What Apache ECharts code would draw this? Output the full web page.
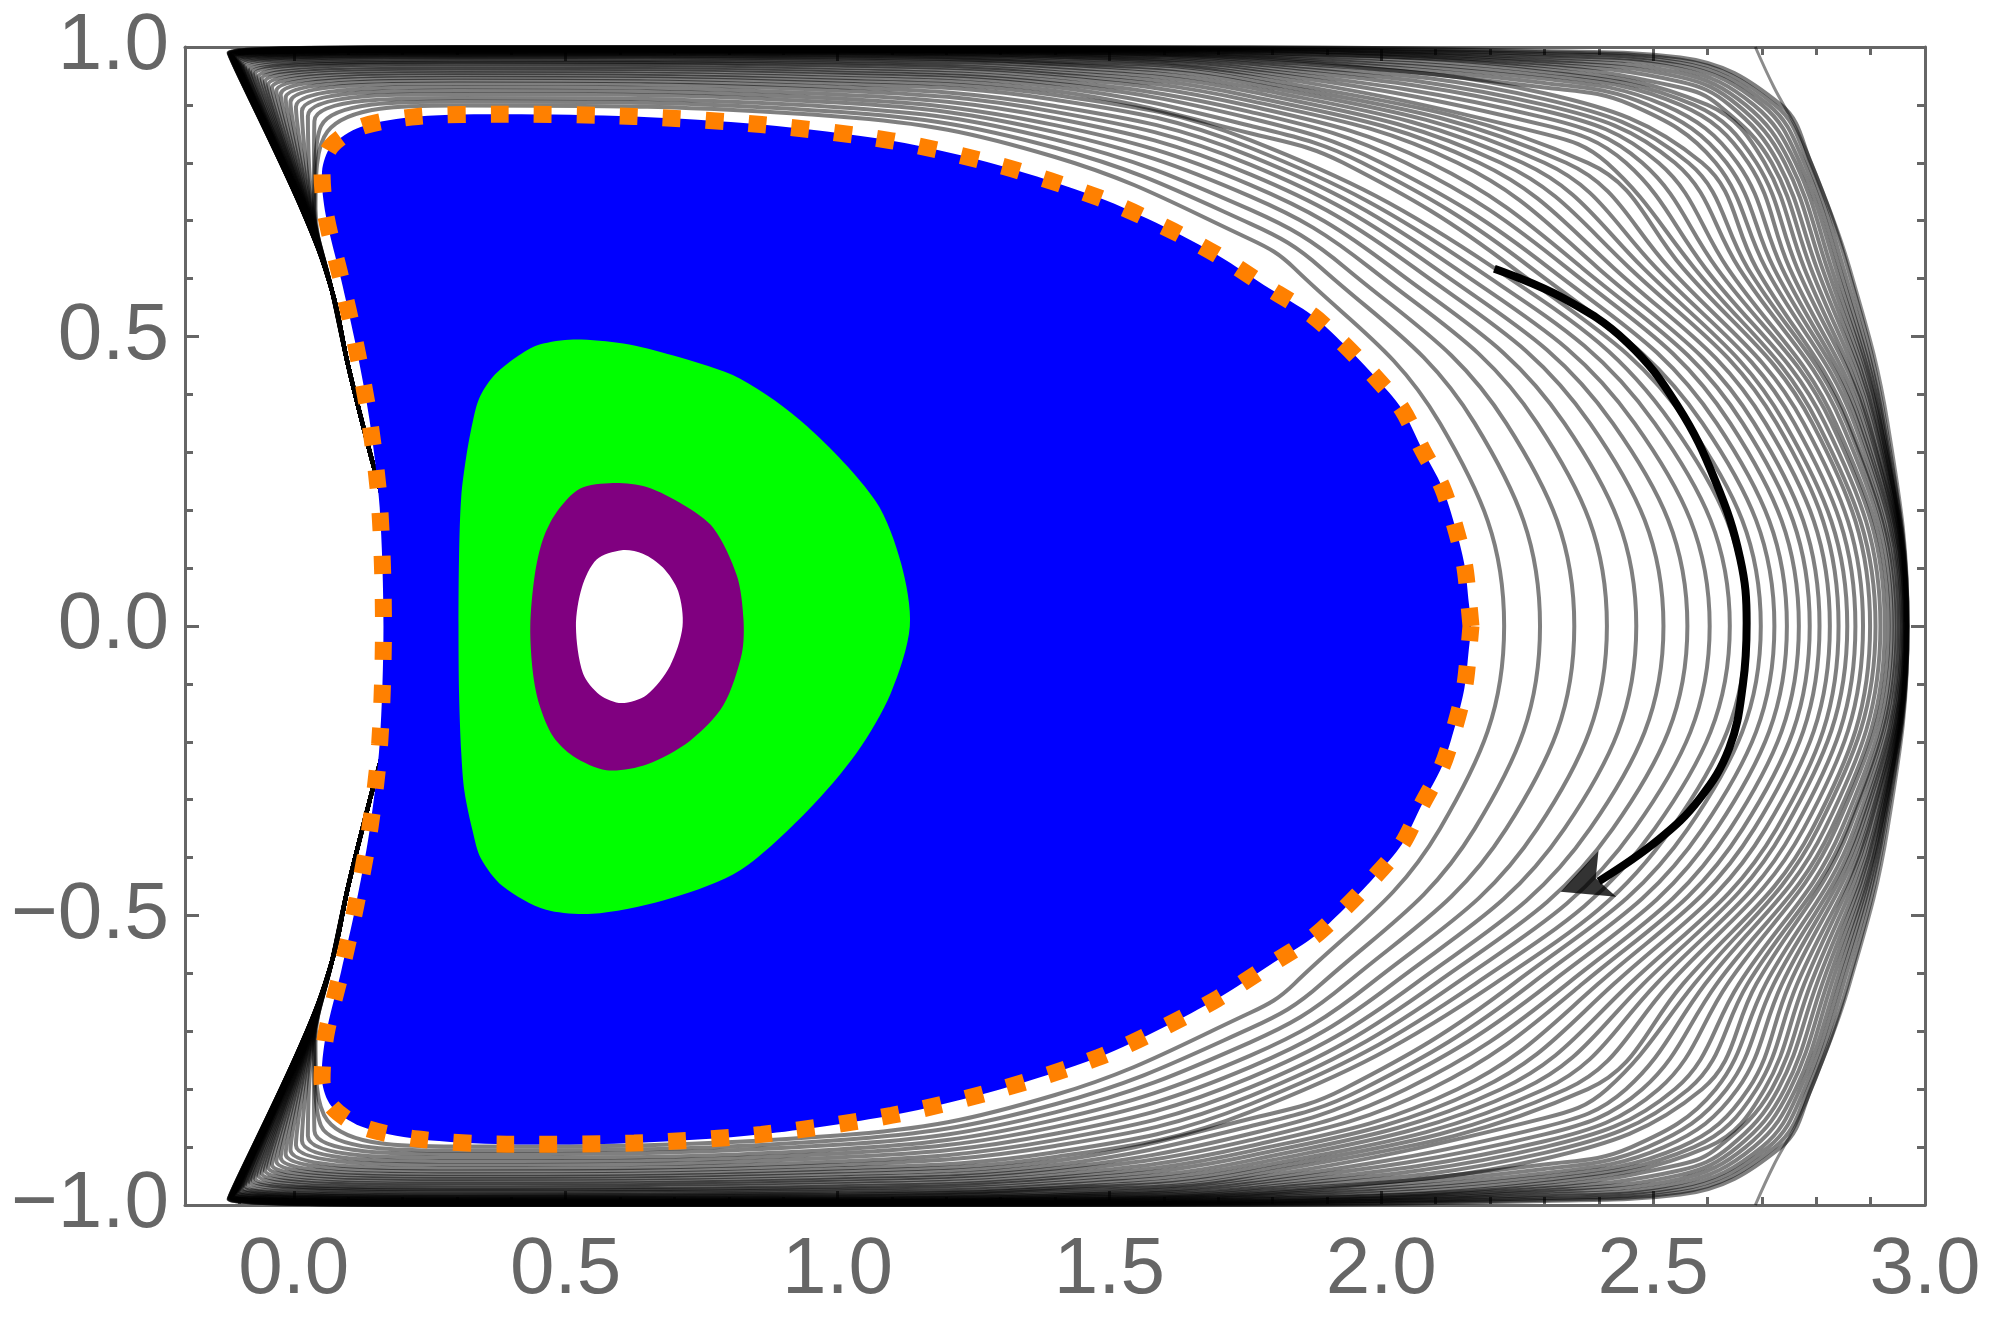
<!DOCTYPE html>
<html>
<head>
<meta charset="utf-8">
<script src="https://cdn.jsdelivr.net/npm/echarts@6.0.0/dist/echarts.min.js"></script>
<style>
  html, body { margin: 0; padding: 0; background: #fff; }
  #chart { width: 1989px; height: 1324px; }
</style>
</head>
<body>
<div id="chart"></div>
<script>
// tick positions
const xMajorTicks = [0, 0.5, 1.0, 1.5, 2.0, 2.5, 3.0];

// contour lines, innermost first; upper half at fixed cuts
// y = 0 (right tip)
const tipX = [2.226, 2.292, 2.355, 2.415, 2.469, 2.519, 2.563, 2.604, 2.641, 2.671, 2.698, 2.723, 2.746, 2.768, 2.788, 2.806,
  2.825, 2.841, 2.857, 2.872, 2.886, 2.899, 2.909, 2.918, 2.926, 2.933, 2.939, 2.944, 2.948, 2.952, 2.955, 2.958, 2.960, 2.962,
  2.963, 2.964, 2.965, 2.966, 2.966, 2.967, 2.967, 2.967, 2.968, 2.968];
// y = 0.35, right side
const rightX35 = [2.108, 2.172, 2.230, 2.287, 2.337, 2.384, 2.426, 2.466, 2.503, 2.534, 2.564, 2.591, 2.617, 2.642, 2.665, 2.686,
  2.707, 2.727, 2.742, 2.760, 2.777, 2.793, 2.803, 2.816, 2.828, 2.836, 2.847, 2.856, 2.861, 2.870, 2.877, 2.882, 2.888, 2.894,
  2.897, 2.902, 2.907, 2.910, 2.913, 2.917, 2.918, 2.921, 2.924, 2.927];
// y = 0.618, right side
const rightX62 = [1.840, 1.890, 1.935, 1.980, 2.021, 2.062, 2.099, 2.136, 2.173, 2.208, 2.243, 2.276, 2.309, 2.342, 2.370, 2.399,
  2.428, 2.457, 2.482, 2.506, 2.530, 2.555, 2.576, 2.596, 2.617, 2.637, 2.658, 2.674, 2.690, 2.707, 2.722, 2.737, 2.751, 2.765,
  2.778, 2.790, 2.801, 2.811, 2.820, 2.828, 2.836, 2.843, 2.850, 2.858];
// y = 0.80, right side (outer curves)
const rightX80 = [null, null, null, null, null, null, null, null, null, null,
  1.930, 1.965, 2.000, 2.045, 2.090, 2.140, 2.180, 2.220, 2.260, 2.300, 2.340, 2.380, 2.415, 2.450, 2.480, 2.510, 2.540, 2.565,
  2.590, 2.615, 2.635, 2.655, 2.675, 2.690, 2.705, 2.718, 2.730, 2.742, 2.752, 2.762, 2.770, 2.778, 2.785, 2.790];
// y = 0.90, right side (outermost curves)
const rightX90 = [null, null, null, null, null, null, null, null, null, null, null, null, null, null, null, null, null, null,
  null, null, null, null, null, null, null, null, null, null, null,
  2.460, 2.490, 2.520, 2.550, 2.575, 2.600, 2.620, 2.640, 2.655, 2.670, 2.685, 2.700, 2.712, 2.724, 2.735];
// x = 2.55, top (outermost curves)
const topY255 = [null, null, null, null, null, null, null, null, null, null, null, null, null, null, null, null, null, null,
  null, null, null, null, null, null, null, null, null, null, null, null, null, null, null, null, null,
  0.930, 0.940, 0.948, 0.955, 0.962, 0.968, 0.973, 0.978, 0.982];
// x = 2.3, top (outer curves)
const topY23 = [null, null, null, null, null, null, null, null, null, null, null, null, null, null, null, null, null, null,
  null, null, null, null,
  0.850, 0.865, 0.878, 0.890, 0.900, 0.910, 0.920, 0.930, 0.938, 0.945, 0.951, 0.957, 0.962, 0.967, 0.971, 0.975, 0.978, 0.982,
  0.985, 0.988, 0.991, 0.993];
// x = 1.759, top
const topY176 = [0.668, 0.695, 0.719, 0.742, 0.762, 0.780, 0.797, 0.812, 0.826, 0.839, 0.851, 0.864, 0.877, 0.888, 0.898, 0.907,
  0.915, 0.923, 0.930, 0.937, 0.943, 0.949, 0.954, 0.959, 0.963, 0.967, 0.971, 0.974, 0.977, 0.980, 0.982, 0.984, 0.986, 0.988,
  0.990, 0.991, 0.993, 0.994, 0.995, 0.996, 0.997, 0.998, 0.999, 0.9995];
// x = 1.4, top
const topY14 = [0.810, 0.826, 0.840, 0.853, 0.865, 0.877, 0.888, 0.898, 0.909, 0.917, 0.924, 0.931, 0.937, 0.942, 0.948, 0.953,
  0.957, 0.962, 0.966, 0.970, 0.972, 0.975, 0.978, 0.981, 0.983, 0.984, 0.986, 0.988, 0.989, 0.990, 0.991, 0.992, 0.993, 0.994,
  0.9945, 0.995, 0.996, 0.9966, 0.9973, 0.9979, 0.9985, 0.999, 0.9995, 0.9998];
// x = 1.0, top
const topY10 = [0.880, 0.888, 0.896, 0.904, 0.911, 0.918, 0.925, 0.931, 0.937, 0.942, 0.947, 0.952, 0.956, 0.960, 0.964, 0.968,
  0.971, 0.974, 0.977, 0.980, 0.982, 0.984, 0.986, 0.9875, 0.989, 0.990, 0.991, 0.992, 0.993, 0.9935, 0.994, 0.9945, 0.995, 0.9955,
  0.996, 0.9965, 0.997, 0.9975, 0.998, 0.9985, 0.999, 0.9993, 0.9996, 0.9999];
// x = 0.3, top
const topY03 = [0.899, 0.906, 0.912, 0.919, 0.925, 0.931, 0.937, 0.942, 0.947, 0.951, 0.955, 0.959, 0.963, 0.966, 0.970, 0.973,
  0.975, 0.978, 0.981, 0.983, 0.985, 0.986, 0.988, 0.989, 0.990, 0.991, 0.992, 0.993, 0.994, 0.994, 0.995, 0.995, 0.996, 0.996,
  0.997, 0.997, 0.998, 0.998, 0.998, 0.999, 0.999, 0.9995, 0.9997, 0.9999];
// upper left corner of each curve
const cornerX = [0.062, 0.050, 0.038, 0.026, 0.015, 0.004, -0.006, -0.015, -0.024, -0.032, -0.040, -0.047, -0.053, -0.059, -0.065,
  -0.071, -0.076, -0.081, -0.085, -0.090, -0.093, -0.096, -0.099, -0.101, -0.103, -0.105, -0.106, -0.108, -0.109, -0.110, -0.111,
  -0.112, -0.112, -0.113, -0.114, -0.115, -0.115, -0.116, -0.117, -0.118, -0.119, -0.119, -0.119, -0.120];
const cornerY = [0.854, 0.863, 0.872, 0.881, 0.889, 0.897, 0.905, 0.912, 0.918, 0.924, 0.930, 0.935, 0.940, 0.945, 0.949, 0.954,
  0.957, 0.960, 0.964, 0.967, 0.970, 0.972, 0.974, 0.976, 0.977, 0.979, 0.980, 0.981, 0.982, 0.983, 0.983, 0.984, 0.984, 0.985,
  0.986, 0.986, 0.987, 0.987, 0.988, 0.988, 0.989, 0.989, 0.990, 0.990];
// y = 0.72, left side
const leftX72 = [0.040, 0.038, 0.037, 0.035, 0.034, 0.032, 0.031, 0.029, 0.028, 0.027, 0.026, 0.025, 0.024, 0.023, 0.023, 0.022,
  0.021, 0.020, 0.020, 0.019, 0.019, 0.018, 0.018, 0.018, 0.017, 0.017, 0.017, 0.017, 0.016, 0.016, 0.016, 0.016, 0.016, 0.016,
  0.016, 0.015, 0.015, 0.015, 0.015, 0.015, 0.015, 0.015, 0.015, 0.015];
// shared lower-left run of all curves (mostly under the blue area)
const leftPath = [[0.20, 0], [0.19, 0.12], [0.14, 0.30], [0.10, 0.45], [0.07, 0.58]];

// open outermost curve leaving through y = +-1
const outerEdge = [[2.688, 1.0], [2.722, 0.931], [2.762, 0.862], [2.800, 0.780], [2.862, 0.618], [2.932, 0.35], [2.969, 0.0],
  [2.932, -0.35], [2.862, -0.618], [2.800, -0.780], [2.762, -0.862], [2.722, -0.931], [2.688, -1.0]];

// boundary of the blue region (orange dotted curve)
const orangeBoundary = [
  [2.165, 0.0], [2.161, 0.040], [2.153, 0.106], [2.136, 0.171], [2.112, 0.240], [2.075, 0.306], [2.038, 0.375], [1.988, 0.431],
  [1.931, 0.487], [1.874, 0.536], [1.796, 0.582], [1.700, 0.640], [1.600, 0.690], [1.480, 0.740], [1.300, 0.795], [1.100, 0.838],
  [0.860, 0.866], [0.626, 0.880], [0.392, 0.884], [0.228, 0.880], [0.123, 0.862], [0.069, 0.829], [0.052, 0.785], [0.059, 0.709],
  [0.087, 0.599], [0.113, 0.490], [0.139, 0.358], [0.158, 0.205], [0.165, 0.0],
  [0.158, -0.203], [0.139, -0.356], [0.113, -0.488], [0.087, -0.597], [0.059, -0.707], [0.052, -0.785], [0.069, -0.829],
  [0.123, -0.864], [0.228, -0.886], [0.392, -0.895], [0.626, -0.893], [0.860, -0.878], [1.100, -0.845], [1.300, -0.800],
  [1.480, -0.745], [1.600, -0.693], [1.700, -0.643], [1.796, -0.585], [1.874, -0.538], [1.931, -0.489], [1.988, -0.433],
  [2.038, -0.377], [2.075, -0.308], [2.112, -0.242], [2.136, -0.172], [2.153, -0.107], [2.161, -0.041]
];
const greenBoundary = [
  [0.606, 0.488], [0.514, 0.495], [0.452, 0.486], [0.409, 0.464], [0.366, 0.430], [0.341, 0.393], [0.329, 0.352], [0.317, 0.291],
  [0.308, 0.223], [0.304, 0.121], [0.303, -0.001], [0.304, -0.116], [0.308, -0.218], [0.314, -0.286], [0.329, -0.354],
  [0.344, -0.401], [0.384, -0.449], [0.464, -0.490], [0.563, -0.496], [0.698, -0.469], [0.821, -0.422], [0.944, -0.320],
  [1.036, -0.218], [1.098, -0.116], [1.133, -0.001], [1.117, 0.108], [1.070, 0.216], [0.944, 0.345], [0.821, 0.427], [0.698, 0.467]
];
const purpleBoundary = [
  [0.587, 0.247], [0.526, 0.237], [0.483, 0.196], [0.458, 0.149], [0.443, 0.087], [0.435, -0.001], [0.440, -0.082], [0.452, -0.137],
  [0.477, -0.191], [0.514, -0.225], [0.575, -0.249], [0.649, -0.239], [0.729, -0.198], [0.790, -0.137], [0.824, -0.048],
  [0.827, 0.013], [0.815, 0.087], [0.772, 0.169], [0.717, 0.209], [0.649, 0.240]
];
const holeBoundary = [
  [0.603, 0.131], [0.557, 0.115], [0.530, 0.067], [0.519, -0.001], [0.532, -0.082], [0.563, -0.119], [0.603, -0.133],
  [0.649, -0.119], [0.692, -0.069], [0.715, -0.001], [0.707, 0.060], [0.679, 0.101], [0.642, 0.125]
];

// black arrow
const arrowPath = [[2.208, 0.617], [2.335, 0.566], [2.452, 0.490], [2.545, 0.380], [2.615, 0.249], [2.660, 0.117], [2.672, 0.005],
  [2.665, -0.102], [2.640, -0.211], [2.585, -0.299], [2.510, -0.369], [2.400, -0.441]];
const arrowTip = [2.330, -0.459];

const GRAY = '#666666';

function buildContour(k) {
  const up = leftPath.slice();
  up.push([leftX72[k], 0.72], [cornerX[k], cornerY[k]], [0.3, topY03[k]], [1.0, topY10[k]], [1.4, topY14[k]],
    [1.759, topY176[k]]);
  if (topY23[k] != null) up.push([2.3, topY23[k]]);
  if (topY255[k] != null) up.push([2.55, topY255[k]]);
  if (rightX90[k] != null) up.push([rightX90[k], 0.90]);
  if (rightX80[k] != null) up.push([rightX80[k], 0.80]);
  up.push([rightX62[k], 0.618], [rightX35[k], 0.35], [tipX[k], 0]);
  const down = up.slice(0, -1).reverse().map(p => [p[0], -p[1]]);
  return up.concat(down);
}

function region(points, color, z) {
  return {
    type: 'custom',
    z: z,
    silent: true,
    data: [points[0]],
    encode: { x: 0, y: 1 },
    renderItem: function (params, api) {
      return {
        type: 'polygon',
        shape: { points: points.map(p => api.coord(p)), smooth: 0.3 },
        style: { fill: color }
      };
    }
  };
}

const series = [];
tipX.forEach((t, k) => {
  series.push({
    type: 'line',
    z: 2,
    data: buildContour(k),
    smooth: 0.4,
    symbol: 'none',
    silent: true,
    lineStyle: { color: 'rgba(0,0,0,0.5)', width: 4 }
  });
});
series.push({
  type: 'line', z: 2, data: outerEdge, smooth: 0.4, symbol: 'none', silent: true,
  lineStyle: { color: 'rgba(0,0,0,0.45)', width: 3 }
});
series.push(region(orangeBoundary, '#0000ff', 3));
series.push(region(greenBoundary, '#00ff00', 4));
series.push(region(purpleBoundary, '#800080', 5));
series.push(region(holeBoundary, '#ffffff', 6));
series.push({
  type: 'line', z: 7, data: orangeBoundary.concat([orangeBoundary[0]]), smooth: 0.3, symbol: 'none', silent: true,
  lineStyle: { color: '#ff8000', width: 17, type: [18, 25], cap: 'butt' }
});
series.push({
  type: 'line', z: 8, data: arrowPath, smooth: 0.4, symbol: 'none', silent: true,
  lineStyle: { color: '#000000', width: 8, cap: 'butt' }
});
series.push({
  type: 'scatter', z: 9, data: [arrowTip], symbol: 'arrow', symbolSize: [37, 50], symbolRotate: 111, silent: true,
  itemStyle: { color: '#000000' }
});

const tickStyle = { color: GRAY, width: 3 };
const labelFont = { fontSize: 80, color: GRAY, fontFamily: 'Liberation Sans, Arial, sans-serif' };
const fmt = v => (v < 0 ? '\u2212' : '') + Math.abs(v).toFixed(1);

function xAxisMajor(pos, labels) {
  return {
    type: 'value', position: pos, min: -0.2, max: 3.0,
    axisLine: { show: true, onZero: false, lineStyle: tickStyle },
    axisTick: { show: true, inside: true, length: 14, lineStyle: tickStyle, customValues: xMajorTicks },
    axisLabel: labels ? Object.assign({ margin: 26, formatter: fmt, customValues: xMajorTicks }, labelFont) : { show: false },
    splitLine: { show: false }
  };
}
function xAxisMinor(pos) {
  return {
    type: 'value', position: pos, min: -0.2, max: 3.0, interval: 0.1,
    axisLine: { show: false, onZero: false },
    axisTick: { show: true, inside: true, length: 8, lineStyle: tickStyle },
    axisLabel: { show: false },
    splitLine: { show: false }
  };
}
function yAxis(pos, labels) {
  return {
    type: 'value', position: pos, min: -1, max: 1, interval: 0.5,
    axisLine: { show: true, onZero: false, lineStyle: tickStyle },
    axisTick: { show: true, inside: true, length: 14, lineStyle: tickStyle },
    minorTick: { show: true, splitNumber: 5, length: 8, lineStyle: tickStyle },
    axisLabel: labels ? Object.assign({ margin: 16, formatter: fmt }, labelFont) : { show: false },
    splitLine: { show: false },
    minorSplitLine: { show: false }
  };
}

const chart = echarts.init(document.getElementById('chart'), null, { renderer: 'canvas' });
chart.setOption({
  animation: false,
  backgroundColor: '#ffffff',
  grid: { left: 185, right: 64, top: 47, bottom: 119, outerBoundsMode: 'none' },
  xAxis: [xAxisMajor('bottom', true), xAxisMinor('bottom'), xAxisMajor('top', false), xAxisMinor('top')],
  yAxis: [yAxis('left', true), yAxis('right', false)],
  series: series
});
</script>
</body>
</html>
